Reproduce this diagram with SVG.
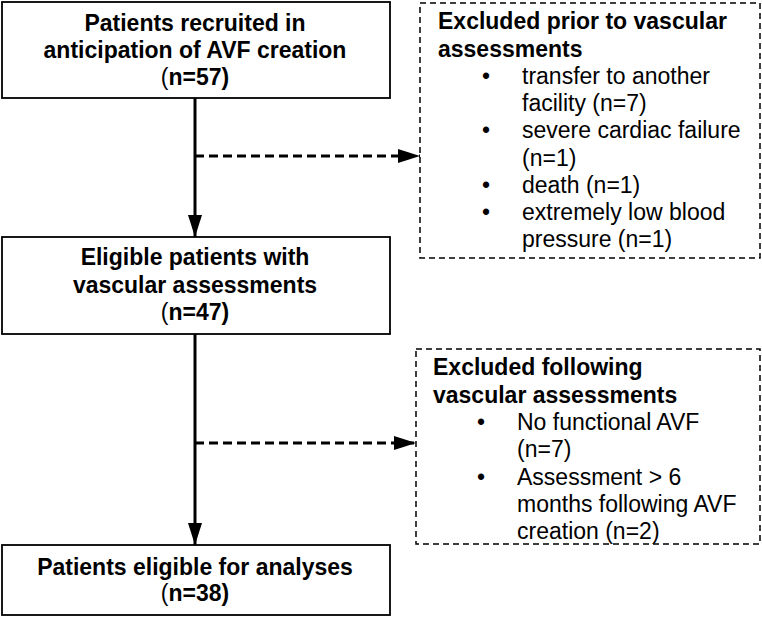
<svg xmlns="http://www.w3.org/2000/svg" width="762" height="617" viewBox="0 0 762 617">
<defs>
<style>
.box{fill:#fff;stroke:#000;stroke-width:1.8}
.dbox{fill:#fff;stroke:#000;stroke-width:1.5;stroke-dasharray:6 4}
.t{font-family:"Liberation Sans",Arial,sans-serif;font-size:23px;fill:#000}
.b{font-weight:bold}
.c{text-anchor:middle}
.n{font-weight:normal}
.solid{stroke:#000;stroke-width:3;fill:none}
.dash{stroke:#000;stroke-width:3;fill:none;stroke-dasharray:9 5}
</style>
<marker id="ah" markerUnits="userSpaceOnUse" markerWidth="22" markerHeight="16" refX="22" refY="7" orient="auto">
<path d="M0,0 L22,7 L0,14 Z" fill="#000"/>
</marker>
</defs>
<g id="node-recruited">
<rect class="box" x="2" y="2" width="388" height="96"/>
<text class="t b c" x="195" y="31">Patients recruited in</text>
<text class="t b c" x="195" y="58">anticipation of AVF creation</text>
<text class="t b c" x="195" y="85"><tspan class="n">(</tspan>n=57)</text>
</g>
<g id="node-excluded-prior">
<rect class="dbox" x="420" y="3" width="340" height="255"/>
<text class="t b" x="438" y="29">Excluded prior to vascular</text>
<text class="t b" x="438" y="57">assessments</text>
<text class="t" x="482" y="84">•</text>
<text class="t" x="522" y="84">transfer to another</text>
<text class="t" x="522" y="111">facility (n=7)</text>
<text class="t" x="482" y="138">•</text>
<text class="t" x="522" y="138">severe cardiac failure</text>
<text class="t" x="522" y="166">(n=1)</text>
<text class="t" x="482" y="193">•</text>
<text class="t" x="522" y="193">death (n=1)</text>
<text class="t" x="482" y="220">•</text>
<text class="t" x="522" y="220">extremely low blood</text>
<text class="t" x="522" y="247">pressure (n=1)</text>
</g>
<g id="node-eligible">
<rect class="box" x="2" y="237" width="388" height="97"/>
<text class="t b c" x="195" y="265">Eligible patients with</text>
<text class="t b c" x="195" y="293">vascular assessments</text>
<text class="t b c" x="195" y="320"><tspan class="n">(</tspan>n=47)</text>
</g>
<g id="node-excluded-following">
<rect class="dbox" x="416" y="349" width="344" height="195"/>
<text class="t b" x="433" y="375">Excluded following</text>
<text class="t b" x="433" y="403">vascular assessments</text>
<text class="t" x="477" y="430">•</text>
<text class="t" x="517" y="430">No functional AVF</text>
<text class="t" x="517" y="457">(n=7)</text>
<text class="t" x="477" y="485">•</text>
<text class="t" x="517" y="485">Assessment &gt; 6</text>
<text class="t" x="517" y="512">months following AVF</text>
<text class="t" x="517" y="539">creation (n=2)</text>
</g>
<g id="node-analyses">
<rect class="box" x="2" y="545" width="388" height="70"/>
<text class="t b c" x="195" y="575">Patients eligible for analyses</text>
<text class="t b c" x="195" y="601"><tspan class="n">(</tspan>n=38)</text>
</g>
<g id="connectors">
<line class="solid" x1="195" y1="98" x2="195" y2="237" marker-end="url(#ah)"/>
<line class="dash" x1="195" y1="156" x2="420" y2="156" marker-end="url(#ah)"/>
<line class="solid" x1="195" y1="334" x2="195" y2="545" marker-end="url(#ah)"/>
<line class="dash" x1="195" y1="443" x2="416" y2="443" marker-end="url(#ah)"/>
</g>
</svg>
